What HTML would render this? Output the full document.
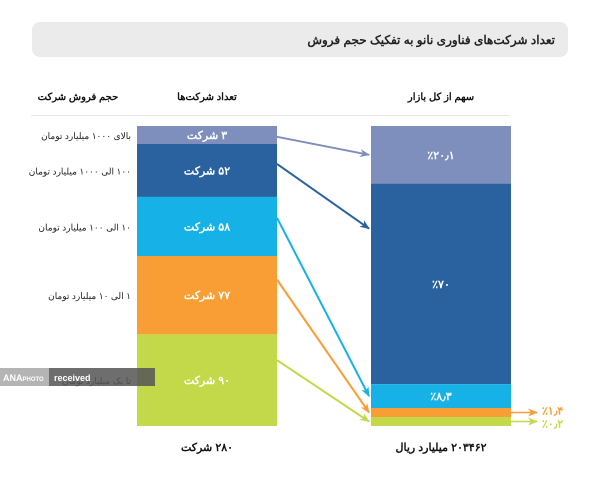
<!DOCTYPE html>
<html><head><meta charset="utf-8"><style>
body{margin:0;background:#fff;width:600px;height:474px;overflow:hidden;font-family:"Liberation Sans","Noto Sans CJK SC",sans-serif}
</style></head><body>
<svg width="600" height="474" xmlns="http://www.w3.org/2000/svg" font-family="'Liberation Sans','Noto Sans CJK SC',sans-serif">
<rect x="32" y="22" width="536" height="35" rx="8" fill="#ebebeb"/>
<text x="555" y="44" text-anchor="start" font-size="12" font-weight="bold" fill="#222" direction="rtl">تعداد شرکت‌های فناوری نانو به تفکیک حجم فروش</text>
<text x="78" y="100" text-anchor="middle" font-size="10" font-weight="bold" fill="#111" direction="rtl">حجم فروش شرکت</text>
<text x="207" y="100" text-anchor="middle" font-size="10" font-weight="bold" fill="#111" direction="rtl">تعداد شرکت‌ها</text>
<text x="441" y="100" text-anchor="middle" font-size="10" font-weight="bold" fill="#111" direction="rtl">سهم از کل بازار</text>
<line x1="31" y1="115.5" x2="510" y2="115.5" stroke="#e6e6e6"/>
<g id="bars"></g>
<rect x="0" y="368" width="155" height="18" fill="#555" opacity="0.85"/>
<rect x="0" y="368" width="49" height="18" fill="#bbb" opacity="0.9"/>
<text x="3" y="381" font-size="9" font-weight="bold" fill="#fff">ANA<tspan font-size="6">PHOTO</tspan></text>
<text x="54" y="381" font-size="9" font-weight="bold" fill="#fff">received</text>
<text x="207" y="451" text-anchor="middle" font-size="11" font-weight="bold" fill="#111" direction="rtl">۲۸۰ شرکت</text>
<text x="441" y="451" text-anchor="middle" font-size="11" font-weight="bold" fill="#111" direction="rtl">۲۰۳۴۶۲ میلیارد ریال</text>
</svg>
<script>
const categories=["بالای ۱۰۰۰ میلیارد تومان","۱۰۰ الی ۱۰۰۰ میلیارد تومان","۱۰ الی ۱۰۰ میلیارد تومان","۱ الی ۱۰ میلیارد تومان","تا یک میلیارد تومان"];
const counts=[3,52,58,77,90];
const shares=[20.1,70,8.3,1.4,0.2];
const countLabels=["۳ شرکت","۵۲ شرکت","۵۸ شرکت","۷۷ شرکت","۹۰ شرکت"];
const shareLabels=["٪۲۰٫۱","٪۷۰","٪۸٫۳","٪۱٫۴","٪۰٫۲"];
const colors=["#7f8fbd","#2a62a0","#16b1e6","#f99d35","#c3d94a"];
const NS="http://www.w3.org/2000/svg";
const g=document.getElementById('bars');
function layout(vals,minH,top,h){
  const tot=vals.reduce((a,b)=>a+b,0);
  let small=vals.map(v=>v/tot*h<minH);
  const fixed=small.filter(s=>s).length*minH;
  const rest=vals.reduce((a,v,i)=>a+(small[i]?0:v),0);
  let y=top;return vals.map((v,i)=>{const hh=small[i]?minH:v/rest*(h-fixed);const r={y:y,h:hh};y+=hh;return r;});
}
const L=layout(counts,18,126,300), R=layout(shares,9,126,300);
function el(t,a){const e=document.createElementNS(NS,t);for(const k in a)e.setAttribute(k,a[k]);g.appendChild(e);return e;}
const defs=el('defs',{});
colors.forEach((c,i)=>{const m=document.createElementNS(NS,'marker');m.setAttribute('id','m'+i);m.setAttribute('markerWidth','10');m.setAttribute('markerHeight','8');m.setAttribute('refX','9');m.setAttribute('refY','4');m.setAttribute('orient','auto');m.setAttribute('markerUnits','userSpaceOnUse');const p=document.createElementNS(NS,'path');p.setAttribute('d','M0,0 L10,4 L0,8 L3,4Z');p.setAttribute('fill',c);m.appendChild(p);defs.appendChild(m);});
counts.forEach((v,i)=>{
  const r=el('rect',{x:137,y:L[i].y,width:140,height:L[i].h,fill:colors[i]});
  
  
  const t=el('text',{x:207,y:L[i].y+L[i].h/2+4,'text-anchor':'middle','font-size':11,'font-weight':'bold',fill:'#fff',direction:'rtl'});t.textContent=countLabels[i];
  
  
  const c=el('text',{x:131,y:L[i].y+L[i].h/2+4,'text-anchor':'start','font-size':9,fill:'#222',direction:'rtl'});c.textContent=categories[i];
  
  
  const s=el('rect',{x:371,y:R[i].y,width:140,height:R[i].h,fill:colors[i]});
  
  
  const y1=L[i].y+Math.min(L[i].h*0.6,12+L[i].h*0.15), y2=R[i].y+Math.min(R[i].h/2,45);
  const a=el('line',{x1:277,y1:y1,x2:369,y2:y2,stroke:colors[i],'stroke-width':2,'marker-end':'url(#m'+i+')'});
  
  
  if(R[i].h>20){
    const st=el('text',{x:441,y:R[i].y+R[i].h/2+4,'text-anchor':'middle','font-size':11,'font-weight':'bold',fill:'#fff'});st.textContent=shareLabels[i];
    
    
  } else {
    const ay=R[i].y+R[i].h/2;
    const ol=el('line',{x1:511,y1:ay,x2:537,y2:ay,stroke:colors[i],'stroke-width':1.5,'marker-end':'url(#m'+i+')'});
    
    
    const st=el('text',{x:542,y:ay+4+(i===3?-2:2),'font-size':11,'font-weight':'bold',fill:colors[i]});st.textContent=shareLabels[i];
    
    
  }
});
</script>
</body></html>
